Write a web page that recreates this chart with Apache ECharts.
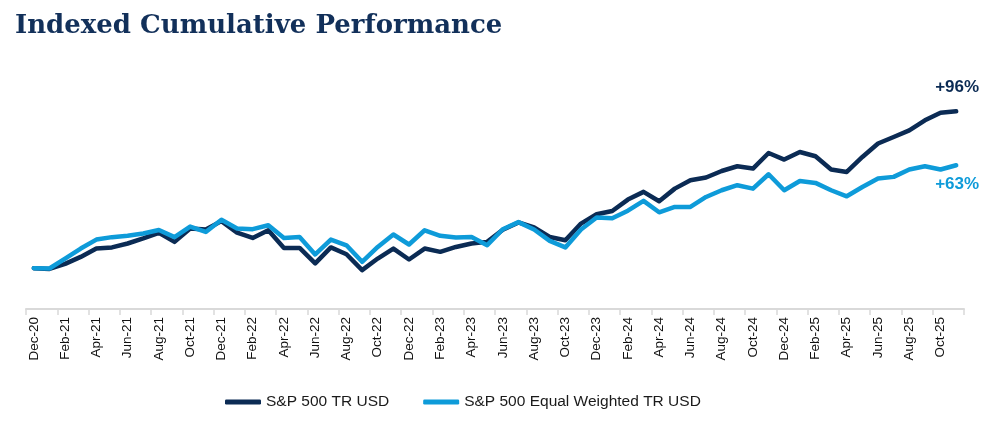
<!DOCTYPE html>
<html><head><meta charset="utf-8">
<script src="https://cdn.jsdelivr.net/npm/echarts@6/dist/echarts.min.js"></script>
<style>html,body{margin:0;padding:0;background:#fff}#c{width:1007px;height:422px}</style>
</head><body><div id="c"></div>
<script>
const months = [
 'Dec-20','Jan-21','Feb-21','Mar-21','Apr-21','May-21','Jun-21','Jul-21','Aug-21','Sep-21','Oct-21','Nov-21',
 'Dec-21','Jan-22','Feb-22','Mar-22','Apr-22','May-22','Jun-22','Jul-22','Aug-22','Sep-22','Oct-22','Nov-22',
 'Dec-22','Jan-23','Feb-23','Mar-23','Apr-23','May-23','Jun-23','Jul-23','Aug-23','Sep-23','Oct-23','Nov-23',
 'Dec-23','Jan-24','Feb-24','Mar-24','Apr-24','May-24','Jun-24','Jul-24','Aug-24','Sep-24','Oct-24','Nov-24',
 'Dec-24','Jan-25','Feb-25','Mar-25','Apr-25','May-25','Jun-25','Jul-25','Aug-25','Sep-25','Oct-25','Nov-25'
];
const spxTR = [
 100, 99.5, 102.6, 106.9, 112.0, 112.7, 115.1, 118.2, 121.6, 116.1, 124.3, 123.7,
 128.8, 121.8, 118.5, 123.2, 112.4, 112.4, 102.9, 112.7, 108.5, 98.8, 105.9, 112.0,
 105.3, 112.0, 110.0, 113.0, 115.1, 116.1, 123.5, 128.0, 124.9, 119.1, 117.1, 127.3,
 133.0, 135.0, 142.0, 146.7, 141.0, 148.7, 153.8, 155.5, 159.5, 162.4, 161.0, 170.5,
 166.5, 171.1, 168.5, 160.4, 158.9, 168.1, 176.3, 180.3, 184.4, 190.5, 195.2, 196.0
];
const spxEW = [
 100, 99.8, 105.9, 112.0, 117.5, 119.0, 119.8, 121.2, 123.4, 119.0, 125.5, 122.2,
 129.6, 124.3, 123.9, 126.3, 118.5, 119.1, 108.4, 117.5, 114.0, 103.9, 113.0, 120.6,
 114.5, 123.2, 119.8, 118.8, 119.1, 114.1, 123.8, 128.2, 123.7, 116.7, 112.7, 123.7,
 131.0, 130.5, 135.2, 141.2, 134.2, 137.5, 137.5, 143.6, 147.7, 150.8, 148.7, 157.5,
 147.7, 153.4, 152.2, 147.7, 144.0, 149.7, 154.9, 155.9, 160.4, 162.4, 160.4, 163.0
];
const seriesNames = ['S&P 500 TR USD', 'S&P 500 Equal Weighted TR USD'];
const endLabels = ['+96%', '+63%'];
const colors = ['#0b2b54', '#0e9bd9'];

const labelFont = { fontFamily: 'Liberation Sans, Arial, sans-serif', fontWeight: 'bold', fontSize: 17 };

const chart = echarts.init(document.getElementById('c'), null, { renderer: 'canvas' });
chart.setOption({
  animation: false,
  backgroundColor: '#ffffff',
  title: {
    text: 'Indexed Cumulative Performance', left: 10, top: 8,
    textStyle: { fontFamily: 'DejaVu Serif, Georgia, serif', fontWeight: 'bold', fontSize: 26, color: '#12305a' }
  },
  legend: {
    bottom: 7, left: 220, itemWidth: 36, itemHeight: 5, itemGap: 34, icon: 'roundRect',
    textStyle: { fontFamily: 'Liberation Sans, Arial, sans-serif', fontSize: 15.5, color: '#1a1a1a' },
    data: seriesNames
  },
  grid: { left: 26, right: 43, top: 64, bottom: 113, containLabel: false },
  xAxis: {
    type: 'category', data: months, boundaryGap: true,
    axisLine: { lineStyle: { color: '#d9d9d9', width: 2 } },
    axisTick: { show: true, interval: 1, length: 6, lineStyle: { color: '#d9d9d9', width: 1.5 } },
    axisLabel: { interval: 1, rotate: 90, margin: 8, fontFamily: 'Liberation Sans, Arial, sans-serif', fontSize: 13.5, color: '#111' }
  },
  yAxis: { type: 'value', min: 75, max: 225, show: false, splitLine: { show: false } },
  series: [
    { name: seriesNames[0], type: 'line', data: spxTR,
      symbol: 'none', color: colors[0], lineStyle: { width: 4.5, color: colors[0], cap: 'round', join: 'round' }, z: 2,
      endLabel: Object.assign({ show: true, formatter: endLabels[0], color: colors[0], offset: [-29, -24] }, labelFont) },
    { name: seriesNames[1], type: 'line', data: spxEW,
      symbol: 'none', color: colors[1], lineStyle: { width: 4.5, color: colors[1], cap: 'round', join: 'round' }, z: 3,
      endLabel: Object.assign({ show: true, formatter: endLabels[1], color: colors[1], offset: [-29, 19] }, labelFont) }
  ]
});
</script></body></html>
